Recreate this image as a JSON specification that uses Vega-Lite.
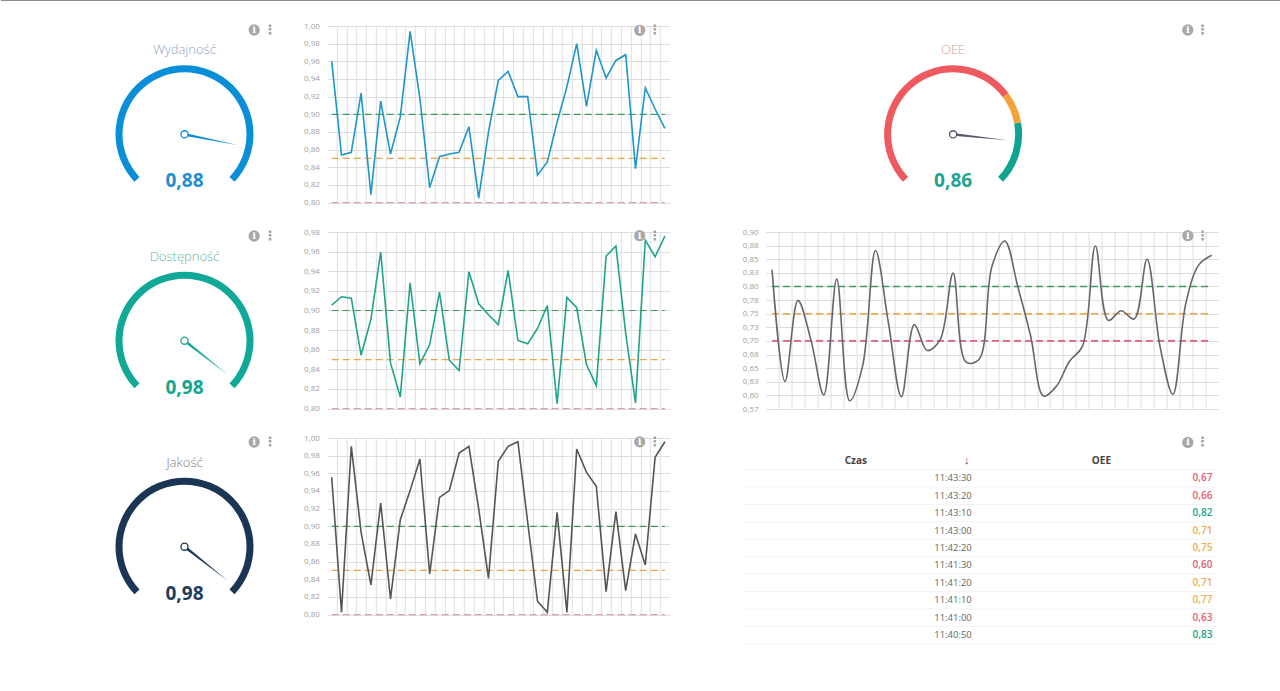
{"$schema":"https://vega.github.io/schema/vega-lite/v6.json","background":"white","padding":0,"autosize":{"type":"pad"},"config":{"font":"Open Sans","view":{"stroke":null},"axis":{"title":null,"domain":false,"ticks":false,"gridColor":"#dedede","gridWidth":1,"labelFont":"Open Sans","labelFontSize":8,"labelColor":"#a0a0a0","labelPadding":7.5,"labelOverlap":false}},
"datasets":{
"gauges":[{"name":"Wydajność","value":0.88,"label":"0,88"},{"name":"Dostępność","value":0.98,"label":"0,98"},{"name":"Jakość","value":0.98,"label":"0,98"},{"name":"OEE","value":0.86,"label":"0,86"}],
"bands":[{"from":0,"to":0.7,"level":"bad"},{"from":0.7,"to":0.8,"level":"warn"},{"from":0.8,"to":1,"level":"good"}],
"thr":[{"i":0,"t":0.9,"level":"good"},{"i":34,"t":0.9,"level":"good"},{"i":0,"t":0.85,"level":"warn"},{"i":34,"t":0.85,"level":"warn"},{"i":0,"t":0.8,"level":"bad"},{"i":34,"t":0.8,"level":"bad"}],
"thrOee":[{"i":0,"t":0.8,"level":"good"},{"i":34,"t":0.8,"level":"good"},{"i":0,"t":0.75,"level":"warn"},{"i":34,"t":0.75,"level":"warn"},{"i":0,"t":0.7,"level":"bad"},{"i":34,"t":0.7,"level":"bad"}],
"perf":[{"i":0,"v":0.96},{"i":1,"v":0.854},{"i":2,"v":0.857},{"i":3,"v":0.924},{"i":4,"v":0.809},{"i":5,"v":0.915},{"i":6,"v":0.855},{"i":7,"v":0.897},{"i":8,"v":0.994},{"i":9,"v":0.918},{"i":10,"v":0.817},{"i":11,"v":0.852},{"i":12,"v":0.855},{"i":13,"v":0.857},{"i":14,"v":0.886},{"i":15,"v":0.805},{"i":16,"v":0.88},{"i":17,"v":0.9385},{"i":18,"v":0.9487},{"i":19,"v":0.92},{"i":20,"v":0.92},{"i":21,"v":0.831},{"i":22,"v":0.846},{"i":23,"v":0.891},{"i":24,"v":0.931},{"i":25,"v":0.98},{"i":26,"v":0.909},{"i":27,"v":0.9725},{"i":28,"v":0.941},{"i":29,"v":0.961},{"i":30,"v":0.9675},{"i":31,"v":0.8385},{"i":32,"v":0.93},{"i":33,"v":0.906},{"i":34,"v":0.884}],
"avail":[{"i":0,"v":0.9055},{"i":1,"v":0.914},{"i":2,"v":0.9126},{"i":3,"v":0.8544},{"i":4,"v":0.8909},{"i":5,"v":0.9596},{"i":6,"v":0.8466},{"i":7,"v":0.8119},{"i":8,"v":0.9283},{"i":9,"v":0.8456},{"i":10,"v":0.8653},{"i":11,"v":0.9188},{"i":12,"v":0.8493},{"i":13,"v":0.8388},{"i":14,"v":0.9395},{"i":15,"v":0.9068},{"i":16,"v":0.8956},{"i":17,"v":0.8857},{"i":18,"v":0.9409},{"i":19,"v":0.8694},{"i":20,"v":0.866},{"i":21,"v":0.8817},{"i":22,"v":0.9051},{"i":23,"v":0.8051},{"i":24,"v":0.9133},{"i":25,"v":0.9028},{"i":26,"v":0.8449},{"i":27,"v":0.8235},{"i":28,"v":0.9555},{"i":29,"v":0.9657},{"i":30,"v":0.8767},{"i":31,"v":0.8058},{"i":32,"v":0.9718},{"i":33,"v":0.9548},{"i":34,"v":0.9759}],
"qual":[{"i":0,"v":0.9555},{"i":1,"v":0.8026},{"i":2,"v":0.9906},{"i":3,"v":0.8932},{"i":4,"v":0.8336},{"i":5,"v":0.9264},{"i":6,"v":0.8177},{"i":7,"v":0.9075},{"i":8,"v":0.9404},{"i":9,"v":0.9762},{"i":10,"v":0.846},{"i":11,"v":0.9328},{"i":12,"v":0.9404},{"i":13,"v":0.983},{"i":14,"v":0.9906},{"i":15,"v":0.9196},{"i":16,"v":0.8411},{"i":17,"v":0.9736},{"i":18,"v":0.9906},{"i":19,"v":0.9958},{"i":20,"v":0.9045},{"i":21,"v":0.8151},{"i":22,"v":0.8026},{"i":23,"v":0.9158},{"i":24,"v":0.8026},{"i":25,"v":0.9875},{"i":26,"v":0.9611},{"i":27,"v":0.9453},{"i":28,"v":0.826},{"i":29,"v":0.9166},{"i":30,"v":0.8272},{"i":31,"v":0.8913},{"i":32,"v":0.8562},{"i":33,"v":0.9781},{"i":34,"v":0.9958}],
"oee":[{"i":0,"v":0.8305},{"i":1,"v":0.6256},{"i":2,"v":0.7744},{"i":3,"v":0.7024},{"i":4,"v":0.6006},{"i":5,"v":0.8134},{"i":6,"v":0.5902},{"i":7,"v":0.6537},{"i":8,"v":0.8659},{"i":9,"v":0.7329},{"i":10,"v":0.5976},{"i":11,"v":0.7299},{"i":12,"v":0.6823},{"i":13,"v":0.7024},{"i":14,"v":0.8244},{"i":15,"v":0.661},{"i":16,"v":0.6659},{"i":17,"v":0.8366},{"i":18,"v":0.8835},{"i":19,"v":0.8},{"i":20,"v":0.7085},{"i":21,"v":0.5988},{"i":22,"v":0.6171},{"i":23,"v":0.6628},{"i":24,"v":0.69},{"i":25,"v":0.8744},{"i":26,"v":0.7378},{"i":27,"v":0.7555},{"i":28,"v":0.7402},{"i":29,"v":0.85},{"i":30,"v":0.69},{"i":31,"v":0.6018},{"i":32,"v":0.7695},{"i":33,"v":0.8396},{"i":34,"v":0.8573}],
"table":[{"czas":"11:43:30","oee":"0,67","level":"bad"},{"czas":"11:43:20","oee":"0,66","level":"bad"},{"czas":"11:43:10","oee":"0,82","level":"good"},{"czas":"11:43:00","oee":"0,71","level":"warn"},{"czas":"11:42:20","oee":"0,75","level":"warn"},{"czas":"11:41:30","oee":"0,60","level":"bad"},{"czas":"11:41:20","oee":"0,71","level":"warn"},{"czas":"11:41:10","oee":"0,77","level":"warn"},{"czas":"11:41:00","oee":"0,63","level":"bad"},{"czas":"11:40:50","oee":"0,83","level":"good"}]
},
"columns":3,"spacing":{"column":95.8,"row":29},"bounds":"flush","resolve":{"scale":{"color":"independent"}},
"concat":[
{"width":230.2,"height":176.6,"data":{"name":"gauges"},"transform":[{"filter":"datum.name==='Wydajność'"}],
"encoding":{"x":{"datum":0,"axis":null,"scale":{"domain":[-184.5,45.7],"nice":false,"zero":false}},"y":{"datum":0,"axis":null,"scale":{"domain":[-68.3,108.3],"nice":false,"zero":false}}},
"layer":[
{"mark":{"type":"rule","color":"#8a8a8a","strokeWidth":1},"encoding":{"x":{"value":1},"x2":{"value":1280},"y":{"value":-25.5}}},
{"mark":{"type":"arc","radius":69,"radius2":62,"color":"#0a8ed8"},"encoding":{"theta":{"datum":0,"scale":{"domain":[0,1],"range":[-2.33,2.33]}},"theta2":{"datum":1}}},
{"mark":{"type":"point","shape":"M0,-0.025L1,0L0,0.025Z","filled":true,"opacity":1,"size":12100,"color":"#0a8ed8"},"encoding":{"angle":{"field":"value","type":"quantitative","scale":{"domain":[0,1],"range":[-223.5,43.5]}}}},
{"mark":{"type":"point","shape":"circle","filled":true,"opacity":1,"fill":"white","stroke":"#0a8ed8","strokeWidth":1.3,"size":50}},
{"mark":{"type":"text","fontSize":13,"fontWeight":300,"color":"#8da4c4"},"encoding":{"text":{"field":"name"},"y":{"datum":84}}},
{"mark":{"type":"text","fontSize":19,"fontWeight":"bold","color":"#1f8dcf"},"encoding":{"text":{"field":"label"},"y":{"datum":-47}}},
{"mark":{"type":"point","shape":"circle","filled":true,"opacity":1,"color":"#a8a8a8","size":127},"encoding":{"x":{"datum":69.7},"y":{"datum":104.3}}},
{"mark":{"type":"text","text":"i","fontSize":10,"fontWeight":"bold","font":"DejaVu Serif","color":"white"},"encoding":{"x":{"datum":69.7},"y":{"datum":104.3}}},
{"mark":{"type":"text","text":"⋮","fontSize":13,"fontWeight":"bold","font":"DejaVu Sans","color":"#a0a0a0"},"encoding":{"x":{"datum":85.7},"y":{"datum":104.3}}}
]},
{"width":343,"height":176.6,"layer":[
{"data":{"name":"thr"},"mark":{"type":"line","strokeDash":[7,4],"strokeWidth":1.2},"encoding":{"x":{"field":"i","type":"quantitative","title":null,"scale":{"domain":[-0.5,34.5],"nice":false,"zero":false},"axis":{"tickCount":40,"values":[0.5,1.5,2.5,3.5,4.5,5.5,6.5,7.5,8.5,9.5,10.5,11.5,12.5,13.5,14.5,15.5,16.5,17.5,18.5,19.5,20.5,21.5,22.5,23.5,24.5,25.5,26.5,27.5,28.5,29.5,30.5,31.5,32.5,33.5],"labels":false,"grid":true}},"y":{"field":"t","type":"quantitative","title":null,"scale":{"domain":[0.8,1],"nice":false,"zero":false},"axis":{"tickCount":40,"values":[0.8,0.82,0.84,0.86,0.88,0.9,0.92,0.94,0.96,0.98,1],"grid":true,"labelExpr":"replace(format(datum.value,'.2f'),'.',',')"}},"color":{"field":"level","type":"nominal","legend":null,"scale":{"domain":["good","warn","bad"],"range":["#3f9a5e","#eda54a","#d9a3ac"]}}}},
{"data":{"name":"perf"},"mark":{"type":"line","color":"#1c97c9","strokeWidth":1.6},"encoding":{"x":{"field":"i","type":"quantitative","title":null},"y":{"field":"v","type":"quantitative","title":null}}},
{"data":{"values":[{"icon":"info"}]},"mark":{"type":"point","shape":"circle","filled":true,"opacity":1,"color":"#a8a8a8","size":127},"encoding":{"x":{"datum":31.43,"title":null},"y":{"datum":0.9951,"title":null}}},
{"data":{"values":[{"icon":"info"}]},"mark":{"type":"text","text":"i","fontSize":10,"fontWeight":"bold","font":"DejaVu Serif","color":"white"},"encoding":{"x":{"datum":31.43,"title":null},"y":{"datum":0.9951,"title":null}}},
{"data":{"values":[{"icon":"menu"}]},"mark":{"type":"text","text":"⋮","fontSize":13,"fontWeight":"bold","font":"DejaVu Sans","color":"#a0a0a0"},"encoding":{"x":{"datum":33,"title":null},"y":{"datum":0.9951,"title":null}}}
]},
{"width":452.6,"height":176.6,"data":{"name":"gauges"},"transform":[{"filter":"datum.name==='OEE'"}],
"encoding":{"x":{"datum":0,"axis":null,"scale":{"domain":[-187.5,265.1],"nice":false,"zero":false}},"y":{"datum":0,"axis":null,"scale":{"domain":[-68.3,108.3],"nice":false,"zero":false}}},
"layer":[
{"data":{"name":"bands"},"transform":[],"mark":{"type":"arc","radius":69,"radius2":62},"encoding":{"theta":{"field":"from","type":"quantitative","stack":null,"scale":{"domain":[0,1],"range":[-2.33,2.33]}},"theta2":{"field":"to"},"color":{"field":"level","type":"nominal","legend":null,"scale":{"domain":["good","warn","bad"],"range":["#0da58f","#f4a33b","#ee5a5f"]}}}},
{"mark":{"type":"point","shape":"M0,-0.025L1,0L0,0.025Z","filled":true,"opacity":1,"size":12100,"color":"#55566a"},"encoding":{"angle":{"field":"value","type":"quantitative","scale":{"domain":[0,1],"range":[-223.5,43.5]}}}},
{"mark":{"type":"point","shape":"circle","filled":true,"opacity":1,"fill":"white","stroke":"#55566a","strokeWidth":1.3,"size":50}},
{"mark":{"type":"text","fontSize":13,"fontWeight":300,"color":"#e39a9a"},"encoding":{"text":{"field":"name"},"y":{"datum":84}}},
{"mark":{"type":"text","fontSize":19,"fontWeight":"bold","color":"#1fa58f"},"encoding":{"text":{"field":"label"},"y":{"datum":-47}}},
{"mark":{"type":"point","shape":"circle","filled":true,"opacity":1,"color":"#a8a8a8","size":127},"encoding":{"x":{"datum":234.7},"y":{"datum":104.3}}},
{"mark":{"type":"text","text":"i","fontSize":10,"fontWeight":"bold","font":"DejaVu Serif","color":"white"},"encoding":{"x":{"datum":234.7},"y":{"datum":104.3}}},
{"mark":{"type":"text","text":"⋮","fontSize":13,"fontWeight":"bold","font":"DejaVu Sans","color":"#a0a0a0"},"encoding":{"x":{"datum":249.7},"y":{"datum":104.3}}}
]},
{"width":230.2,"height":176.6,"data":{"name":"gauges"},"transform":[{"filter":"datum.name==='Dostępność'"}],
"encoding":{"x":{"datum":0,"axis":null,"scale":{"domain":[-184.5,45.7],"nice":false,"zero":false}},"y":{"datum":0,"axis":null,"scale":{"domain":[-67.9,108.7],"nice":false,"zero":false}}},
"layer":[
{"mark":{"type":"arc","radius":69,"radius2":62,"color":"#10a896"},"encoding":{"theta":{"datum":0,"scale":{"domain":[0,1],"range":[-2.33,2.33]}},"theta2":{"datum":1}}},
{"mark":{"type":"point","shape":"M0,-0.025L1,0L0,0.025Z","filled":true,"opacity":1,"size":12100,"color":"#10a896"},"encoding":{"angle":{"field":"value","type":"quantitative","scale":{"domain":[0,1],"range":[-223.5,43.5]}}}},
{"mark":{"type":"point","shape":"circle","filled":true,"opacity":1,"fill":"white","stroke":"#10a896","strokeWidth":1.3,"size":50}},
{"mark":{"type":"text","fontSize":13,"fontWeight":300,"color":"#5fb5a5"},"encoding":{"text":{"field":"name"},"y":{"datum":84}}},
{"mark":{"type":"text","fontSize":19,"fontWeight":"bold","color":"#0fa68f"},"encoding":{"text":{"field":"label"},"y":{"datum":-47}}},
{"mark":{"type":"point","shape":"circle","filled":true,"opacity":1,"color":"#a8a8a8","size":127},"encoding":{"x":{"datum":69.7},"y":{"datum":104.7}}},
{"mark":{"type":"text","text":"i","fontSize":10,"fontWeight":"bold","font":"DejaVu Serif","color":"white"},"encoding":{"x":{"datum":69.7},"y":{"datum":104.7}}},
{"mark":{"type":"text","text":"⋮","fontSize":13,"fontWeight":"bold","font":"DejaVu Sans","color":"#a0a0a0"},"encoding":{"x":{"datum":85.7},"y":{"datum":104.7}}}
]},
{"width":343,"height":176.6,"layer":[
{"data":{"name":"thr"},"mark":{"type":"line","strokeDash":[7,4],"strokeWidth":1.2},"encoding":{"x":{"field":"i","type":"quantitative","title":null,"scale":{"domain":[-0.5,34.5],"nice":false,"zero":false},"axis":{"tickCount":40,"values":[0.5,1.5,2.5,3.5,4.5,5.5,6.5,7.5,8.5,9.5,10.5,11.5,12.5,13.5,14.5,15.5,16.5,17.5,18.5,19.5,20.5,21.5,22.5,23.5,24.5,25.5,26.5,27.5,28.5,29.5,30.5,31.5,32.5,33.5],"labels":false,"grid":true}},"y":{"field":"t","type":"quantitative","title":null,"scale":{"domain":[0.8,0.98],"nice":false,"zero":false},"axis":{"tickCount":40,"values":[0.8,0.82,0.84,0.86,0.88,0.9,0.92,0.94,0.96,0.98],"grid":true,"labelExpr":"replace(format(datum.value,'.2f'),'.',',')"}},"color":{"field":"level","type":"nominal","legend":null,"scale":{"domain":["good","warn","bad"],"range":["#3f9a5e","#eda54a","#d9a3ac"]}}}},
{"data":{"name":"avail"},"mark":{"type":"line","color":"#1fa38a","strokeWidth":1.6},"encoding":{"x":{"field":"i","type":"quantitative","title":null},"y":{"field":"v","type":"quantitative","title":null}}},
{"data":{"values":[{"icon":"info"}]},"mark":{"type":"point","shape":"circle","filled":true,"opacity":1,"color":"#a8a8a8","size":127},"encoding":{"x":{"datum":31.43,"title":null},"y":{"datum":0.9762,"title":null}}},
{"data":{"values":[{"icon":"info"}]},"mark":{"type":"text","text":"i","fontSize":10,"fontWeight":"bold","font":"DejaVu Serif","color":"white"},"encoding":{"x":{"datum":31.43,"title":null},"y":{"datum":0.9762,"title":null}}},
{"data":{"values":[{"icon":"menu"}]},"mark":{"type":"text","text":"⋮","fontSize":13,"fontWeight":"bold","font":"DejaVu Sans","color":"#a0a0a0"},"encoding":{"x":{"datum":33,"title":null},"y":{"datum":0.9762,"title":null}}}
]},
{"width":452.6,"height":177,"layer":[
{"data":{"name":"thrOee"},"mark":{"type":"line","strokeDash":[7,4],"strokeWidth":1.6},"encoding":{"x":{"field":"i","type":"quantitative","title":null,"scale":{"domain":[-0.5,34.5],"nice":false,"zero":false},"axis":{"tickCount":40,"values":[0.5,1.5,2.5,3.5,4.5,5.5,6.5,7.5,8.5,9.5,10.5,11.5,12.5,13.5,14.5,15.5,16.5,17.5,18.5,19.5,20.5,21.5,22.5,23.5,24.5,25.5,26.5,27.5,28.5,29.5,30.5,31.5,32.5,33.5],"labels":false,"grid":true}},"y":{"field":"t","type":"quantitative","title":null,"scale":{"domain":[0.575,0.9],"nice":false,"zero":false},"axis":{"tickCount":40,"values":[0.575,0.6,0.625,0.65,0.675,0.7,0.725,0.75,0.775,0.8,0.825,0.85,0.875,0.9],"grid":true,"labelExpr":"datum.value<0.58?'0,57':replace(format(datum.value+0.0001,'.2f'),'.',',')"}},"color":{"field":"level","type":"nominal","legend":null,"scale":{"domain":["good","warn","bad"],"range":["#3f9a5e","#eda54a","#e0607a"]}}}},
{"data":{"name":"oee"},"mark":{"type":"line","color":"#66666e","strokeWidth":1.6,"interpolate":"catmull-rom"},"encoding":{"x":{"field":"i","type":"quantitative","title":null},"y":{"field":"v","type":"quantitative","title":null}}},
{"data":{"values":[{"icon":"info"}]},"mark":{"type":"point","shape":"circle","filled":true,"opacity":1,"color":"#a8a8a8","size":127},"encoding":{"x":{"datum":32.15,"title":null},"y":{"datum":0.8932,"title":null}}},
{"data":{"values":[{"icon":"info"}]},"mark":{"type":"text","text":"i","fontSize":10,"fontWeight":"bold","font":"DejaVu Serif","color":"white"},"encoding":{"x":{"datum":32.15,"title":null},"y":{"datum":0.8932,"title":null}}},
{"data":{"values":[{"icon":"menu"}]},"mark":{"type":"text","text":"⋮","fontSize":13,"fontWeight":"bold","font":"DejaVu Sans","color":"#a0a0a0"},"encoding":{"x":{"datum":33.3,"title":null},"y":{"datum":0.8932,"title":null}}}
]},
{"width":230.2,"height":176.6,"data":{"name":"gauges"},"transform":[{"filter":"datum.name==='Jakość'"}],
"encoding":{"x":{"datum":0,"axis":null,"scale":{"domain":[-184.5,45.7],"nice":false,"zero":false}},"y":{"datum":0,"axis":null,"scale":{"domain":[-67.9,108.7],"nice":false,"zero":false}}},
"layer":[
{"mark":{"type":"arc","radius":69,"radius2":62,"color":"#1b3554"},"encoding":{"theta":{"datum":0,"scale":{"domain":[0,1],"range":[-2.33,2.33]}},"theta2":{"datum":1}}},
{"mark":{"type":"point","shape":"M0,-0.025L1,0L0,0.025Z","filled":true,"opacity":1,"size":12100,"color":"#1b3554"},"encoding":{"angle":{"field":"value","type":"quantitative","scale":{"domain":[0,1],"range":[-223.5,43.5]}}}},
{"mark":{"type":"point","shape":"circle","filled":true,"opacity":1,"fill":"white","stroke":"#1b3554","strokeWidth":1.3,"size":50}},
{"mark":{"type":"text","fontSize":13,"fontWeight":300,"color":"#808080"},"encoding":{"text":{"field":"name"},"y":{"datum":84}}},
{"mark":{"type":"text","fontSize":19,"fontWeight":"bold","color":"#1f3a5c"},"encoding":{"text":{"field":"label"},"y":{"datum":-47}}},
{"mark":{"type":"point","shape":"circle","filled":true,"opacity":1,"color":"#a8a8a8","size":127},"encoding":{"x":{"datum":69.7},"y":{"datum":104.7}}},
{"mark":{"type":"text","text":"i","fontSize":10,"fontWeight":"bold","font":"DejaVu Serif","color":"white"},"encoding":{"x":{"datum":69.7},"y":{"datum":104.7}}},
{"mark":{"type":"text","text":"⋮","fontSize":13,"fontWeight":"bold","font":"DejaVu Sans","color":"#a0a0a0"},"encoding":{"x":{"datum":85.7},"y":{"datum":104.7}}}
]},
{"width":343,"height":176.6,"layer":[
{"data":{"name":"thr"},"mark":{"type":"line","strokeDash":[7,4],"strokeWidth":1.2},"encoding":{"x":{"field":"i","type":"quantitative","title":null,"scale":{"domain":[-0.5,34.5],"nice":false,"zero":false},"axis":{"tickCount":40,"values":[0.5,1.5,2.5,3.5,4.5,5.5,6.5,7.5,8.5,9.5,10.5,11.5,12.5,13.5,14.5,15.5,16.5,17.5,18.5,19.5,20.5,21.5,22.5,23.5,24.5,25.5,26.5,27.5,28.5,29.5,30.5,31.5,32.5,33.5],"labels":false,"grid":true}},"y":{"field":"t","type":"quantitative","title":null,"scale":{"domain":[0.8,1],"nice":false,"zero":false},"axis":{"tickCount":40,"values":[0.8,0.82,0.84,0.86,0.88,0.9,0.92,0.94,0.96,0.98,1],"grid":true,"labelExpr":"replace(format(datum.value,'.2f'),'.',',')"}},"color":{"field":"level","type":"nominal","legend":null,"scale":{"domain":["good","warn","bad"],"range":["#3f9a5e","#eda54a","#d9a3ac"]}}}},
{"data":{"name":"qual"},"mark":{"type":"line","color":"#555555","strokeWidth":1.6},"encoding":{"x":{"field":"i","type":"quantitative","title":null},"y":{"field":"v","type":"quantitative","title":null}}},
{"data":{"values":[{"icon":"info"}]},"mark":{"type":"point","shape":"circle","filled":true,"opacity":1,"color":"#a8a8a8","size":127},"encoding":{"x":{"datum":31.43,"title":null},"y":{"datum":0.9956,"title":null}}},
{"data":{"values":[{"icon":"info"}]},"mark":{"type":"text","text":"i","fontSize":10,"fontWeight":"bold","font":"DejaVu Serif","color":"white"},"encoding":{"x":{"datum":31.43,"title":null},"y":{"datum":0.9956,"title":null}}},
{"data":{"values":[{"icon":"menu"}]},"mark":{"type":"text","text":"⋮","fontSize":13,"fontWeight":"bold","font":"DejaVu Sans","color":"#a0a0a0"},"encoding":{"x":{"datum":33,"title":null},"y":{"datum":0.9956,"title":null}}}
]},
{"width":452.6,"height":205.3,"data":{"name":"table"},
"encoding":{"x":{"datum":"Czas","type":"nominal","axis":null,"scale":{"type":"point","domain":["Czas","OEE"],"range":[206.2,446.8],"padding":0}},"y":{"field":"czas","type":"ordinal","axis":null,"scale":{"type":"band","domain":["header","11:43:30","11:43:20","11:43:10","11:43:00","11:42:20","11:41:30","11:41:20","11:41:10","11:41:00","11:40:50"],"range":[14.3,205.7],"paddingInner":0,"paddingOuter":0}}},
"layer":[
{"mark":{"type":"rule","color":"#f3f3f3","strokeWidth":1},"encoding":{"x":{"value":-22},"x2":{"value":452},"y":{"field":"czas","type":"ordinal","bandPosition":1}}},
{"data":{"values":[{"row":"header"}]},"mark":{"type":"rule","color":"#f3f3f3","strokeWidth":1},"encoding":{"x":{"value":-22},"x2":{"value":452},"y":{"field":"row","type":"ordinal","bandPosition":1}}},
{"mark":{"type":"text","align":"right","fontSize":9.5,"color":"#666666"},"encoding":{"text":{"field":"czas"}}},
{"mark":{"type":"text","align":"right","fontSize":10,"fontWeight":600},"encoding":{"x":{"datum":"OEE","type":"nominal"},"text":{"field":"oee"},"color":{"field":"level","type":"nominal","legend":null,"scale":{"domain":["good","warn","bad"],"range":["#14a588","#f0ad4e","#e4606d"]}}}},
{"data":{"values":[{"col":"Czas","row":"header"}]},"mark":{"type":"text","align":"center","dx":-116,"fontSize":10,"fontWeight":700,"color":"#444444"},"encoding":{"y":{"field":"row","type":"ordinal"},"text":{"field":"col"}}},
{"data":{"values":[{"col":"↓","row":"header"}]},"mark":{"type":"text","align":"center","dx":-5,"fontSize":11,"fontWeight":700,"color":"#444444"},"encoding":{"y":{"field":"row","type":"ordinal"},"text":{"field":"col"}}},
{"data":{"values":[{"col":"OEE","row":"header"}]},"mark":{"type":"text","align":"center","dx":-111,"fontSize":10,"fontWeight":700,"color":"#444444"},"encoding":{"x":{"datum":"OEE","type":"nominal"},"y":{"field":"row","type":"ordinal"},"text":{"field":"col"}}},
{"data":{"values":[{"col":"OEE","row":"header"}]},"mark":{"type":"point","shape":"circle","filled":true,"opacity":1,"color":"#a8a8a8","size":127,"xOffset":-24.6,"yOffset":-18.6},"encoding":{"x":{"datum":"OEE","type":"nominal"},"y":{"field":"row","type":"ordinal"}}},
{"data":{"values":[{"col":"OEE","row":"header"}]},"mark":{"type":"text","text":"i","fontSize":10,"fontWeight":"bold","font":"DejaVu Serif","color":"white","dx":-24.6,"dy":-18.6},"encoding":{"x":{"datum":"OEE","type":"nominal"},"y":{"field":"row","type":"ordinal"}}},
{"data":{"values":[{"col":"OEE","row":"header"}]},"mark":{"type":"text","text":"⋮","fontSize":13,"fontWeight":"bold","font":"DejaVu Sans","color":"#a0a0a0","dx":-9.6,"dy":-18.6},"encoding":{"x":{"datum":"OEE","type":"nominal"},"y":{"field":"row","type":"ordinal"}}}
]}
]}
